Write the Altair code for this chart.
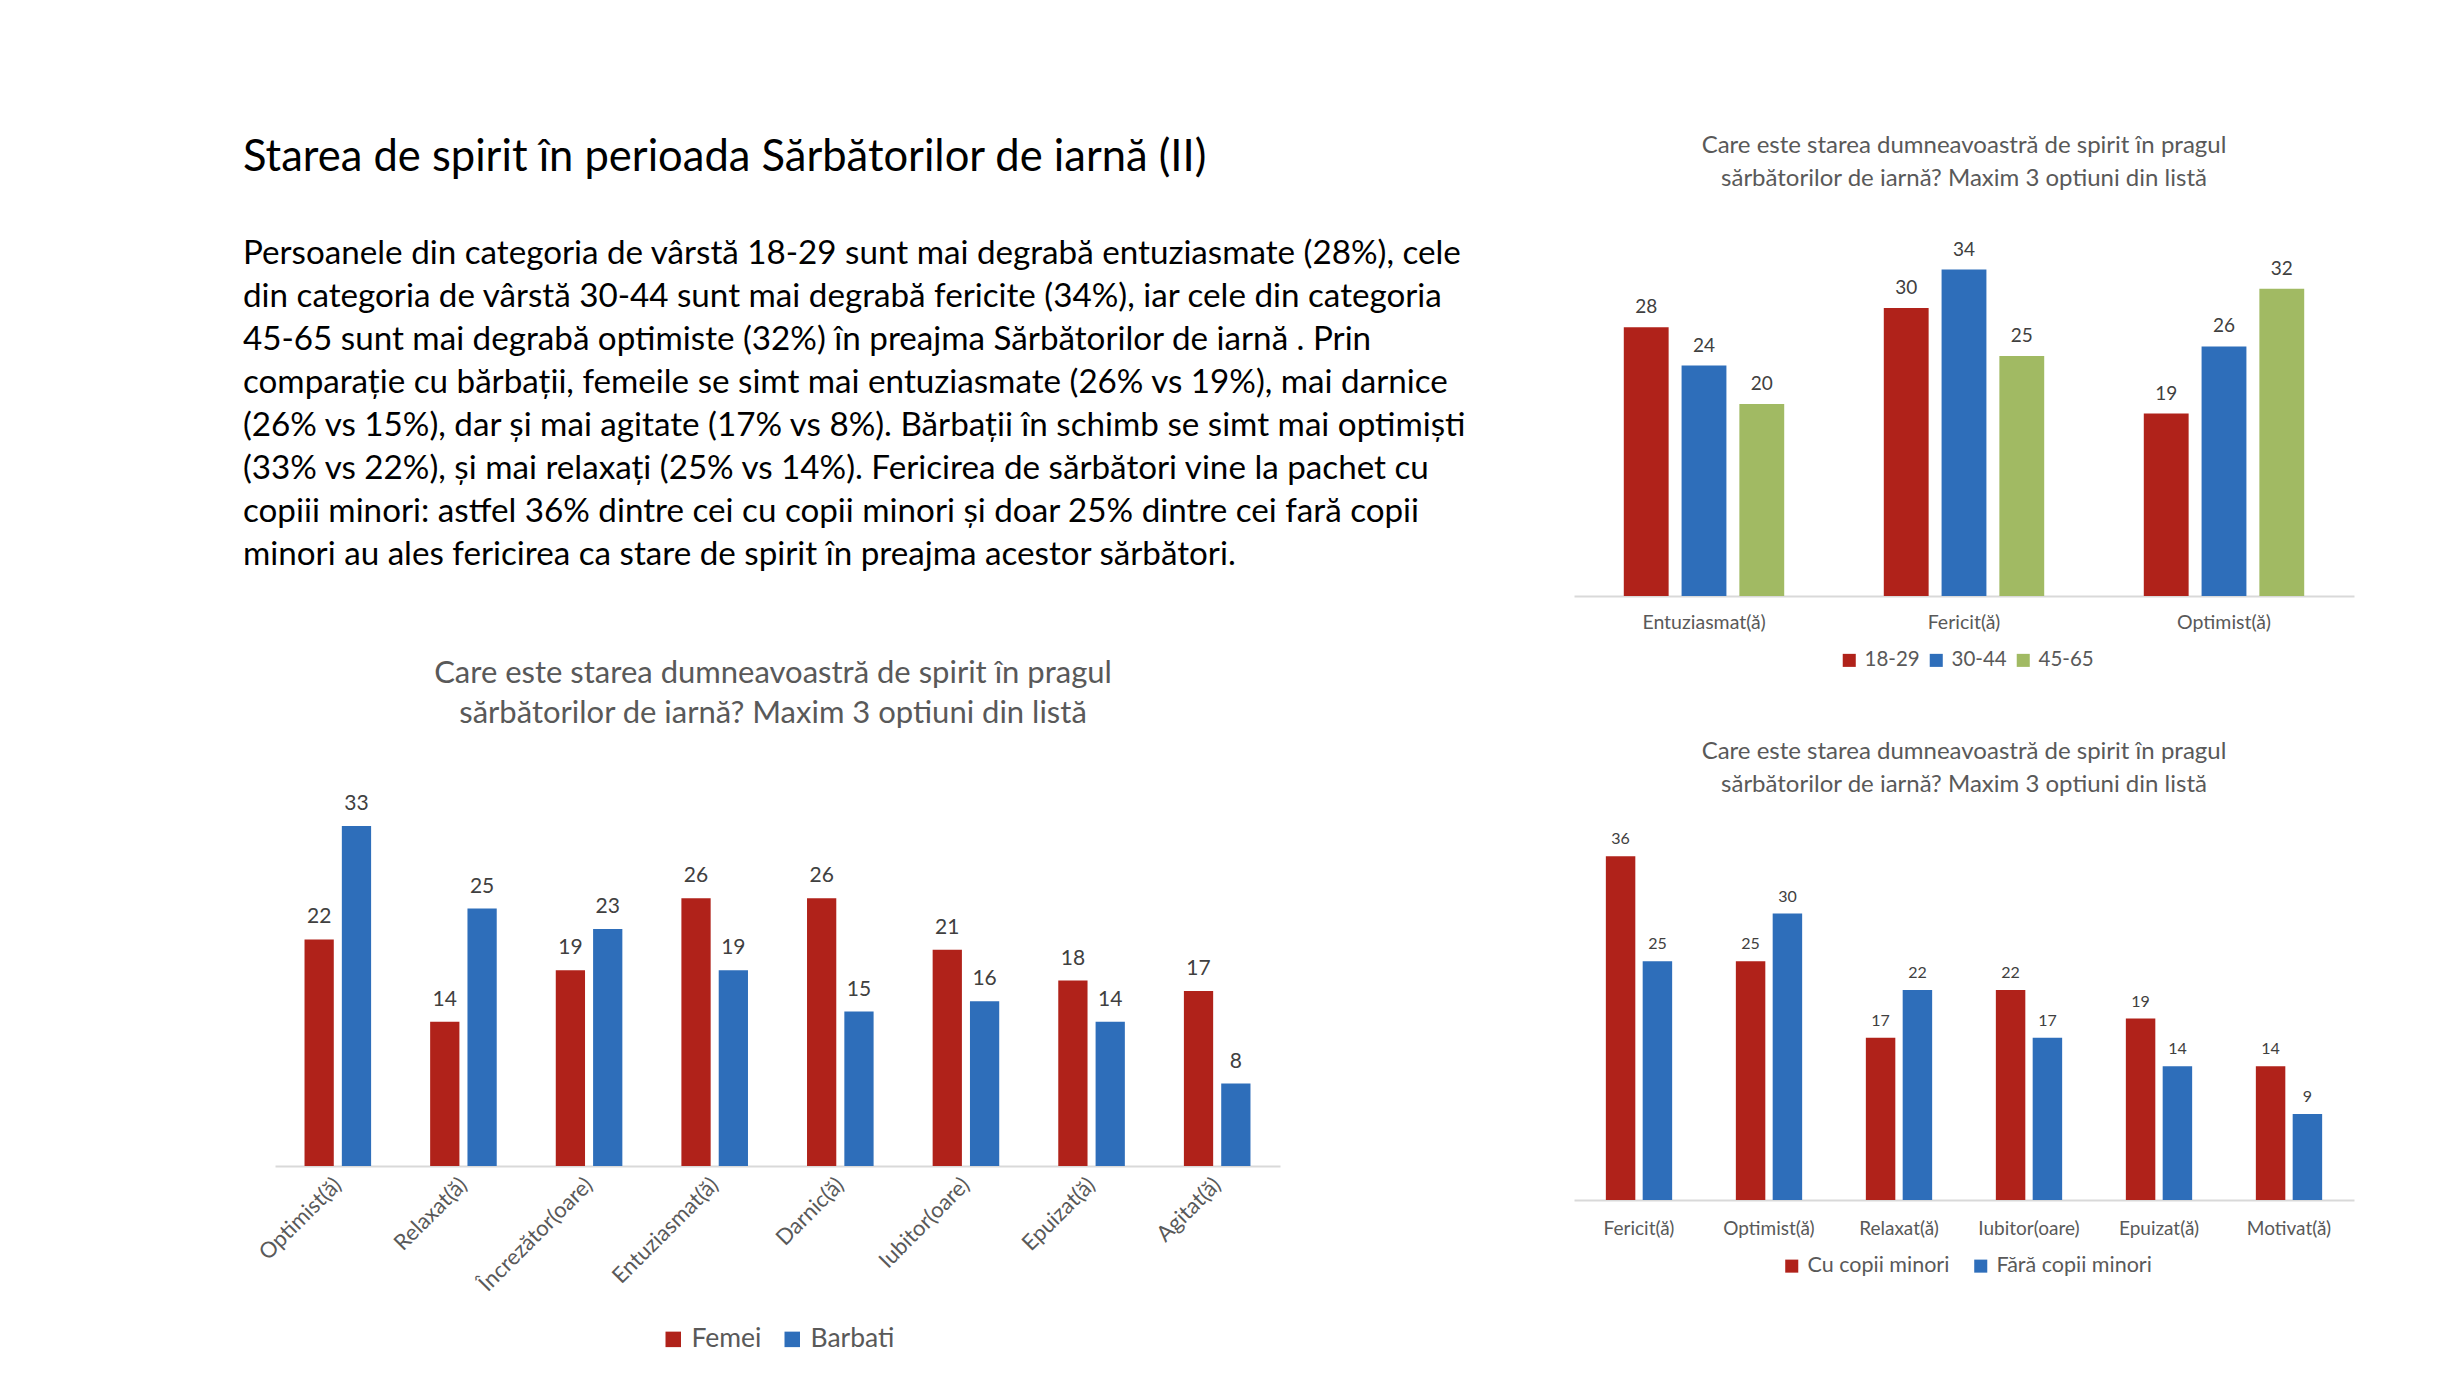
import altair as alt
import pandas as pd

FONT = "Lato"
RED = "#B0221A"
BLUE = "#2E6EBA"
GREEN = "#A1BA63"
GREY_TXT = "#595959"
VAL_TXT = "#404040"

MAIN_TITLE = "Starea de spirit în perioada Sărbătorilor de iarnă (II)"
PARAGRAPH = [
    "Persoanele din categoria de vârstă 18-29 sunt mai degrabă entuziasmate (28%), cele",
    "din categoria de vârstă 30-44 sunt mai degrabă fericite (34%), iar cele din categoria",
    "45-65 sunt mai degrabă optimiste (32%) în preajma Sărbătorilor de iarnă . Prin",
    "comparație cu bărbații, femeile se simt mai entuziasmate (26% vs 19%), mai darnice",
    "(26% vs 15%), dar și mai agitate (17% vs 8%). Bărbații în schimb se simt mai optimiști",
    "(33% vs 22%), și mai relaxați (25% vs 14%). Fericirea de sărbători vine la pachet cu",
    "copiii minori: astfel 36% dintre cei cu copii minori și doar 25% dintre cei fară copii",
    "minori au ales fericirea ca stare de spirit în preajma acestor sărbători.",
]
Q_TITLE = [
    "Care este starea dumneavoastră de spirit în pragul",
    "sărbătorilor de iarnă? Maxim 3 optiuni din listă",
]

# Chart 1: gender
CATS1 = ["Optimist(ă)", "Relaxat(ă)", "Încrezător(oare)", "Entuziasmat(ă)",
         "Darnic(ă)", "Iubitor(oare)", "Epuizat(ă)", "Agitat(ă)"]
SERIES1 = ["Femei", "Barbati"]
FEMEI = [22, 14, 19, 26, 26, 21, 18, 17]
BARBATI = [33, 25, 23, 19, 15, 16, 14, 8]

# Chart 2: age
CATS2 = ["Entuziasmat(ă)", "Fericit(ă)", "Optimist(ă)"]
SERIES2 = ["18-29", "30-44", "45-65"]
AGE_18_29 = [28, 30, 19]
AGE_30_44 = [24, 34, 26]
AGE_45_65 = [20, 25, 32]

# Chart 3: children
CATS3 = ["Fericit(ă)", "Optimist(ă)", "Relaxat(ă)", "Iubitor(oare)", "Epuizat(ă)", "Motivat(ă)"]
SERIES3 = ["Cu copii minori", "Fără copii minori"]
CU_COPII = [36, 25, 17, 22, 19, 14]
FARA_COPII = [25, 30, 22, 17, 14, 9]


def make_df(cats, series, values):
    rows = []
    for s, vals in zip(series, values):
        for c, v in zip(cats, vals):
            rows.append({"cat": c, "series": s, "value": v})
    return pd.DataFrame(rows)


def bar_panel(cats, series, values, colors, width, height, px_unit, pad_inner,
              off_inner, label_size, label_angle, label_pad, value_size, value_dy,
              title_size, title_lh, title_x, title_y, legend_x, legend_y,
              legend_size, legend_sym, legend_gap):
    df = make_df(cats, series, values)
    ymax = height / px_unit
    common = dict(title=None, labelFont=FONT, labelFontSize=label_size,
                  labelColor=GREY_TXT, ticks=False, tickSize=0,
                  labelPadding=label_pad, domainColor="#D9D9D9", domainWidth=2,
                  grid=False, labelLimit=400)
    if label_angle != 0:
        axis = alt.Axis(labelAngle=label_angle, labelAlign="right",
                        labelBaseline="middle", **common)
    else:
        axis = alt.Axis(labelAngle=0, **common)
    x = alt.X("cat:N", sort=cats, axis=axis,
              scale=alt.Scale(paddingInner=pad_inner, paddingOuter=pad_inner / 2))
    xo = alt.XOffset("series:N", sort=series,
                     scale=alt.Scale(domain=series, paddingInner=off_inner, paddingOuter=0))
    y = alt.Y("value:Q", axis=None, scale=alt.Scale(domain=[0, ymax], nice=False))
    base = alt.Chart(df)
    bars = base.mark_bar().encode(
        x=x, xOffset=xo, y=y,
        color=alt.Color("series:N", sort=series,
                        scale=alt.Scale(domain=series, range=colors),
                        legend=alt.Legend(orient="none", legendX=legend_x, legendY=legend_y,
                                          direction="horizontal", title=None,
                                          symbolType="square", symbolSize=legend_sym,
                                          symbolStrokeWidth=0, labelFont=FONT,
                                          labelFontSize=legend_size, labelColor=GREY_TXT,
                                          columnPadding=legend_gap, padding=0,
                                          labelOffset=5)),
    )
    labels = base.mark_text(font=FONT, fontSize=value_size, color=VAL_TXT,
                            baseline="middle", dy=value_dy).encode(
        x=x, xOffset=xo, y=y, text="value:Q")
    title = alt.Chart(pd.DataFrame({"k": [0]})).mark_text(
        font=FONT, fontSize=title_size, lineHeight=title_lh, color=GREY_TXT,
        align="center", baseline="alphabetic").encode(
        x=alt.value(title_x), y=alt.value(title_y), text=alt.value(Q_TITLE))
    return alt.layer(bars, labels, title).properties(width=width, height=height)


chart1 = bar_panel(CATS1, SERIES1, [FEMEI, BARBATI], [RED, BLUE],
                   width=1005, height=516, px_unit=10.3, pad_inner=0.47, off_inner=0.216,
                   label_size=22, label_angle=-45, label_pad=15, value_size=21, value_dy=-22,
                   title_size=31, title_lh=40, title_x=498, title_y=33,
                   legend_x=385, legend_y=676, legend_size=26.5, legend_sym=240, legend_gap=17)

chart2 = bar_panel(CATS2, SERIES2, [AGE_18_29, AGE_30_44, AGE_45_65], [RED, BLUE, GREEN],
                   width=780, height=476, px_unit=9.6, pad_inner=0.383, off_inner=0.224,
                   label_size=19.5, label_angle=0, label_pad=17, value_size=19, value_dy=-20,
                   title_size=24, title_lh=33, title_x=390, title_y=33,
                   legend_x=265, legend_y=530, legend_size=20.5, legend_sym=170, legend_gap=6)

chart3 = bar_panel(CATS3, SERIES3, [CU_COPII, FARA_COPII], [RED, BLUE],
                   width=780, height=550, px_unit=9.55, pad_inner=0.49, off_inner=0.2,
                   label_size=19, label_angle=0, label_pad=19, value_size=16, value_dy=-17,
                   title_size=24, title_lh=33, title_x=390, title_y=109,
                   legend_x=207, legend_y=605, legend_size=21.5, legend_sym=170, legend_gap=20)

text_title = alt.Chart(pd.DataFrame({"t": [MAIN_TITLE]})).mark_text(
    font=FONT, fontSize=43.5, color="#000000", align="left", baseline="alphabetic").encode(
    x=alt.value(-32), y=alt.value(51), text="t:N")
text_par = alt.Chart(pd.DataFrame({"k": [0]})).mark_text(
    font=FONT, fontSize=33.2, lineHeight=43, color="#000000", align="left",
    baseline="alphabetic").encode(
    x=alt.value(-32), y=alt.value(144), text=alt.value(PARAGRAPH))
text_chart = alt.layer(text_title, text_par).properties(width=1005, height=500)

chart = alt.concat(
    text_chart, chart2, chart1, chart3,
    columns=2, spacing={"row": 30, "column": 294}, bounds="flush",
).resolve_scale(color="independent", xOffset="independent").properties(
    padding={"left": 235, "top": 112, "right": 10, "bottom": 10},
    background="white",
).configure_view(strokeWidth=0)

chart.save("out.html", embed_options={"renderer": "svg", "actions": False})
